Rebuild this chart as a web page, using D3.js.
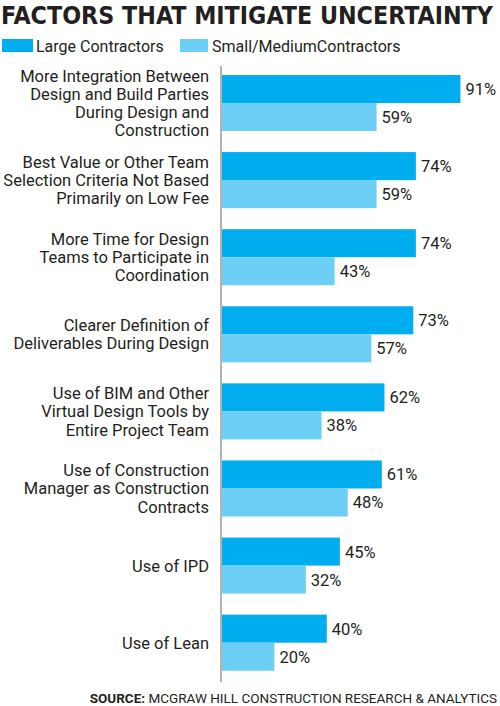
<!DOCTYPE html>
<html>
<head>
<meta charset="utf-8">
<script src="https://cdn.jsdelivr.net/npm/d3@7"></script>
<style>
  html, body { margin: 0; padding: 0; background: #fff; }
  svg { display: block; }
</style>
</head>
<body>
<svg id="chart" width="500" height="706"></svg>
<script>
const categories = [
  "More Integration Between|Design and Build Parties|During Design and|Construction",
  "Best Value or Other Team|Selection Criteria Not Based|Primarily on Low Fee",
  "More Time for Design|Teams to Participate in|Coordination",
  "Clearer Definition of|Deliverables During Design",
  "Use of BIM and Other|Virtual Design Tools by|Entire Project Team",
  "Use of Construction|Manager as Construction|Contracts",
  "Use of IPD",
  "Use of Lean"
];
const largeValues = [91, 74, 74, 73, 62, 61, 45, 40];
const smallValues = [59, 59, 43, 57, 38, 48, 32, 20];
const seriesNames = ["Large Contractors", "Small/MediumContractors"];
const seriesColors = ["#00aeef", "#6dcff6"];

const svg = d3.select("#chart");
const textColor = "#231f20";
const font = "Roboto, 'Noto Sans', sans-serif";

// Title
svg.append("text")
  .attr("x", 1).attr("y", 24)
  .attr("font-family", "'DejaVu Sans Condensed', 'Liberation Sans Narrow', Roboto, sans-serif")
  .attr("font-weight", "bold")
  .attr("font-size", 25)
  .attr("fill", textColor)
  .attr("textLength", 492)
  .attr("lengthAdjust", "spacingAndGlyphs")
  .text("FACTORS THAT MITIGATE UNCERTAINTY");

// Legend
const legendItems = [
  {x: 2, w: 31, tx: 36, name: seriesNames[0], color: seriesColors[0]},
  {x: 180, w: 28, tx: 212, name: seriesNames[1], color: seriesColors[1]}
];
legendItems.forEach(d => {
  svg.append("rect").attr("x", d.x).attr("y", 39).attr("width", d.w).attr("height", 13).attr("fill", d.color);
  svg.append("text").attr("x", d.tx).attr("y", 51.5)
    .attr("font-family", font).attr("font-size", 16).attr("fill", textColor)
    .text(d.name);
});

// Scales
const x0 = 222;
const x = d3.scaleLinear().domain([0, 100]).range([x0, x0 + 262]);
const y = d3.scaleBand().domain(categories).range([75, 670.7]).paddingInner(0.273).paddingOuter(0);
const sub = d3.scaleBand().domain([0, 1]).range([0, y.bandwidth()]).padding(0);

const data = categories.map((c, i) => ({cat: c, vals: [largeValues[i], smallValues[i]]}));

const g = svg.append("g");
const groups = g.selectAll("g.grp").data(data).join("g")
  .attr("class", "grp")
  .attr("transform", d => `translate(0,${y(d.cat)})`);

groups.selectAll("rect").data(d => d.vals).join("rect")
  .attr("x", x(0))
  .attr("y", (v, j) => sub(j))
  .attr("width", v => x(v) - x(0))
  .attr("height", sub.bandwidth())
  .attr("fill", (v, j) => seriesColors[j]);

groups.selectAll("text.val").data(d => d.vals).join("text")
  .attr("class", "val")
  .attr("x", v => x(v) + 5)
  .attr("y", (v, j) => sub(j) + sub.bandwidth() / 2 + 6)
  .attr("font-family", font).attr("font-size", 16.5).attr("fill", textColor)
  .text(v => v + "%");

// Category labels
const lineH = 18.3;
groups.each(function(d) {
  const lines = d.cat.split("|");
  const cy = y.bandwidth() / 2;
  const t = d3.select(this).append("text")
    .attr("text-anchor", "end")
    .attr("font-family", font).attr("font-size", 16.5).attr("fill", textColor);
  lines.forEach((ln, k) => {
    t.append("tspan")
      .attr("x", 209)
      .attr("y", cy + (k - (lines.length - 1) / 2) * lineH + 6)
      .text(ln);
  });
});

// Axis line
const yAxis = d3.axisLeft(y).tickSize(0).tickFormat("");
svg.append("g").attr("transform", `translate(${x0 - 1},0)`).call(yAxis)
  .call(s => s.select(".domain").attr("d", `M0,66V682`).attr("stroke", "#b3b3b3").attr("stroke-width", 2));

// Source
const src = svg.append("text")
  .attr("x", 497).attr("y", 703)
  .attr("text-anchor", "end")
  .attr("font-family", font).attr("font-size", 13.5).attr("fill", textColor);
src.append("tspan").attr("font-weight", "bold").text("SOURCE: ");
src.append("tspan").text("MCGRAW HILL CONSTRUCTION RESEARCH & ANALYTICS");
</script>
</body>
</html>
